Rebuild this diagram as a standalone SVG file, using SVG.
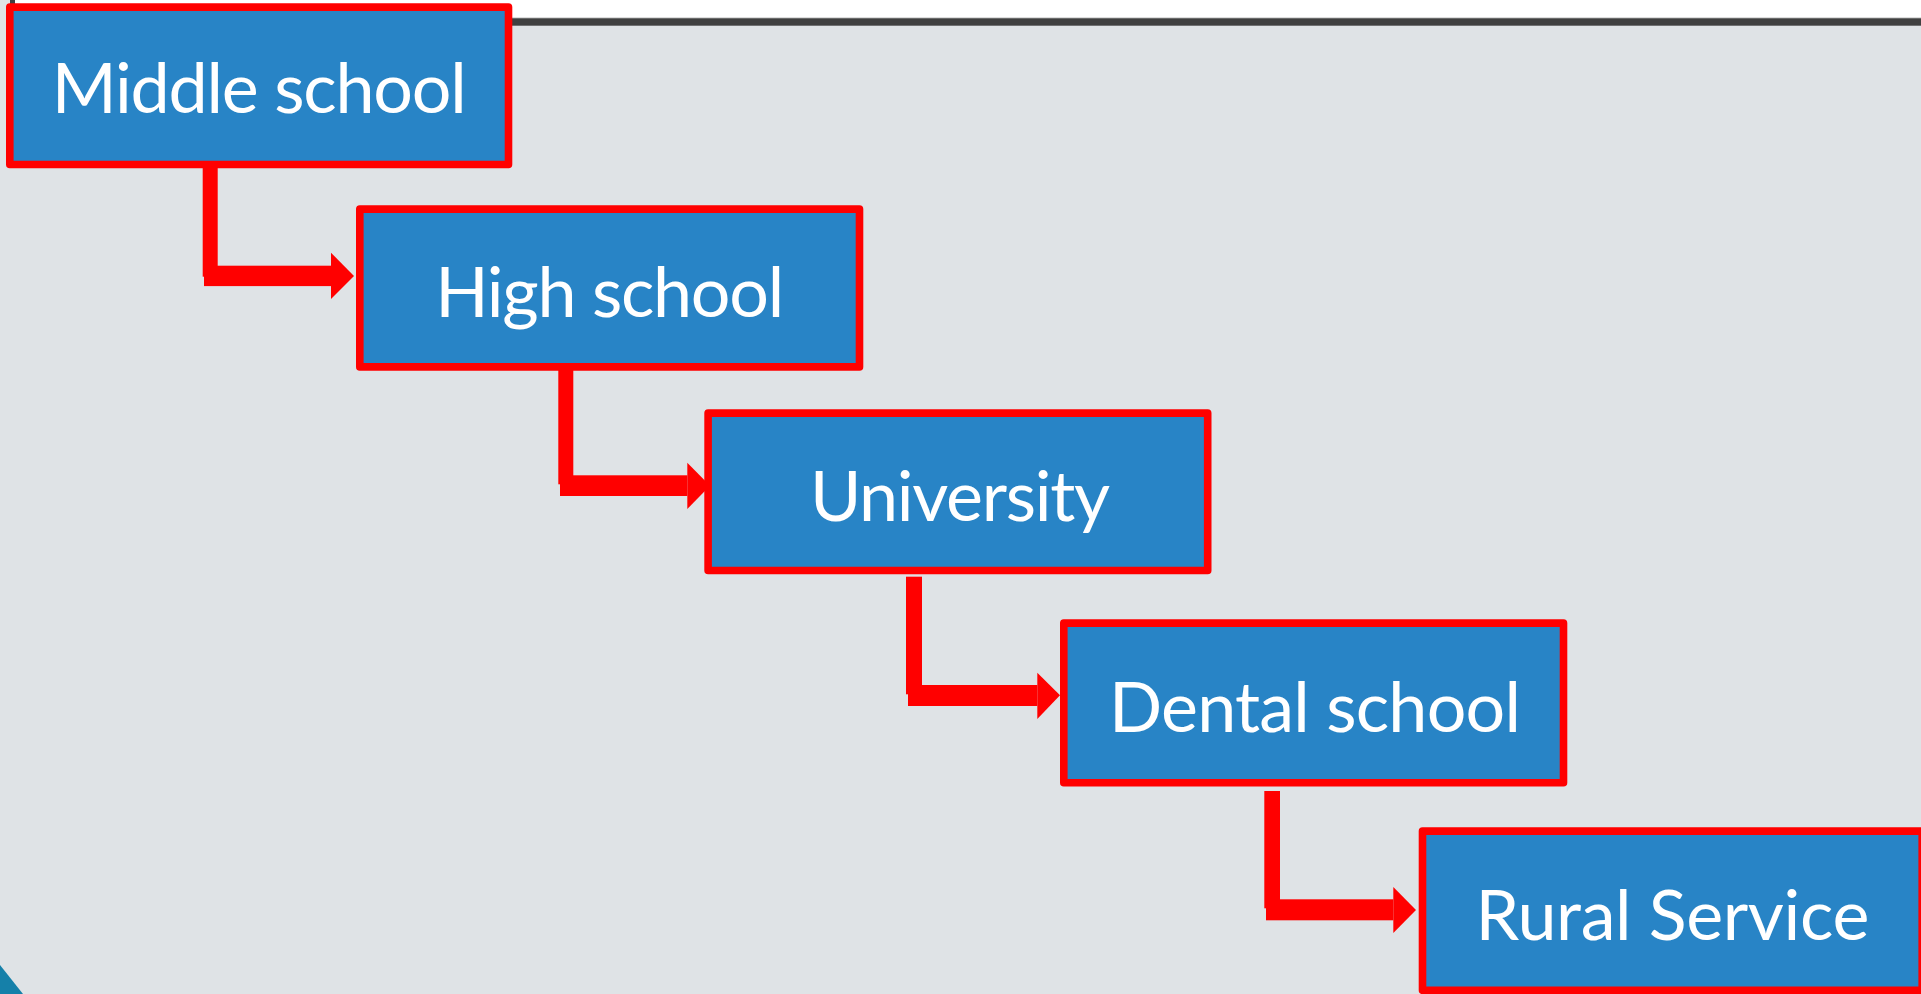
<svg xmlns="http://www.w3.org/2000/svg" width="1921" height="994" viewBox="0 0 1921 994">
  <style>
    .box { fill: #2884C6; stroke: #FF0000; stroke-width: 7.6; stroke-linejoin: round; }
    .lbl { fill: #FFFFFF; font-family: Lato, "Open Sans", "Liberation Sans", sans-serif; font-size: 70px; text-anchor: middle; }
    .conn { fill: #FF0000; }
  </style>
  <rect x="0" y="0" width="1921" height="994" fill="#DFE3E6"/>
  <rect x="12" y="0" width="1909" height="18" fill="#FFFFFF"/>
  <rect x="10" y="0" width="5" height="25" fill="#404040"/>
  <rect x="10" y="17.5" width="1911" height="1" fill="#BBBBBB"/>
  <rect x="10" y="18.3" width="1911" height="7.4" fill="#404040"/>
  <polygon points="0,965 23,994 0,994" fill="#1580A9"/>

  <g id="connectors" class="conn">
    <g id="c1">
      <rect x="202.7" y="166" width="15" height="110.7"/>
      <rect x="204" y="265.7" width="127" height="20.4"/>
      <polygon points="331,252.7 354,276 331,299"/>
    </g>
    <g id="c2">
      <rect x="558.3" y="368" width="15" height="116.3"/>
      <rect x="560" y="475.3" width="127.3" height="20.7"/>
      <polygon points="687.3,462.7 710,485.7 687.3,509"/>
    </g>
    <g id="c3">
      <rect x="906" y="576.7" width="16" height="117.6"/>
      <rect x="908" y="685" width="129.3" height="21"/>
      <polygon points="1037.3,672.7 1060,695.3 1037.3,719"/>
    </g>
    <g id="c4">
      <rect x="1264.3" y="791" width="15.7" height="117.3"/>
      <rect x="1266" y="899.3" width="127.3" height="21"/>
      <polygon points="1393.3,887 1416,910 1393.3,933"/>
    </g>
  </g>

  <g id="node-middle-school">
    <rect class="box" x="9.8" y="7.1" width="498.7" height="157.4"/>
    <text class="lbl" x="259.2" y="112.5" textLength="415">Middle school</text>
  </g>
  <g id="node-high-school">
    <rect class="box" x="359.8" y="209.1" width="499.7" height="157.8"/>
    <text class="lbl" x="609.7" y="317.3" textLength="349">High school</text>
  </g>
  <g id="node-university">
    <rect class="box" x="708.1" y="413.1" width="499.6" height="157.4"/>
    <text class="lbl" x="960" y="521" textLength="300">University</text>
  </g>
  <g id="node-dental-school">
    <rect class="box" x="1063.8" y="623.1" width="499.7" height="159.6"/>
    <text class="lbl" x="1315" y="731.7" textLength="412">Dental school</text>
  </g>
  <g id="node-rural-service">
    <rect class="box" x="1422.5" y="831.1" width="499.7" height="159.2"/>
    <text class="lbl" x="1672.4" y="940" textLength="394">Rural Service</text>
  </g>
</svg>
